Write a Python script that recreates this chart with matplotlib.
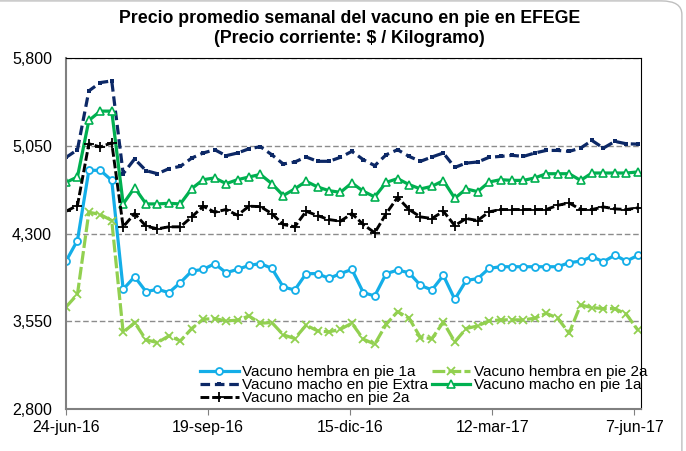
import matplotlib
matplotlib.use('Agg')
import matplotlib.pyplot as plt
from matplotlib.patches import FancyBboxPatch
from matplotlib.ticker import FuncFormatter
import pandas as pd

plt.rcParams['font.family'] = ['Liberation Sans', 'DejaVu Sans']

# weekly dates, starting 24-jun-16
fechas = pd.date_range('2016-06-24', periods=51, freq='7D')

hembra_1a = [4064, 4240, 4840, 4840, 4754, 3823, 3931, 3803, 3823, 3795,
             3880, 3979, 3993, 4042, 3965, 3993, 4027, 4043, 4002, 3843,
             3817, 3957, 3957, 3916, 3957, 3993, 3795, 3766, 3957, 3987,
             3965, 3857, 3817, 3942, 3737, 3899, 3914, 4002, 4016, 4016,
             4016, 4016, 4016, 4016, 4050, 4064, 4101, 4059, 4115, 4064,
             4112]
hembra_2a = [3672, 3780, 4482, 4462, 4411, 3454, 3539, 3391, 3368, 3425,
             3382, 3488, 3567, 3573, 3553, 3559, 3595, 3533, 3539, 3434,
             3402, 3516, 3468, 3459, 3482, 3533, 3397, 3354, 3524, 3632,
             3576, 3411, 3402, 3542, 3374, 3488, 3510, 3553, 3562, 3562,
             3562, 3576, 3618, 3576, 3448, 3689, 3667, 3658, 3658, 3610,
             3476]
macho_extra = [4950, 5016, 5519, 5590, 5604, 4811, 4937, 4837, 4811, 4854,
               4874, 4945, 4988, 5016, 4965, 4988, 5024, 5042, 4973, 4894,
               4911, 4954, 4917, 4917, 4951, 5002, 4931, 4880, 4973, 5016,
               4959, 4917, 4954, 4988, 4865, 4902, 4911, 4951, 4959, 4968,
               4959, 4988, 5010, 5010, 5002, 5030, 5095, 5030, 5087, 5067,
               5064]
macho_1a = [4737, 4783, 5266, 5346, 5346, 4553, 4692, 4553, 4553, 4558,
            4553, 4684, 4760, 4775, 4726, 4760, 4783, 4805, 4726, 4624,
            4681, 4746, 4698, 4666, 4652, 4732, 4661, 4613, 4737, 4769,
            4718, 4681, 4703, 4752, 4601, 4681, 4658, 4740, 4760, 4754,
            4754, 4775, 4811, 4811, 4811, 4754, 4817, 4817, 4817, 4817,
            4826]
macho_2a = [4490, 4539, 5067, 5039, 5075, 4357, 4470, 4363, 4340, 4357,
            4357, 4442, 4533, 4482, 4505, 4456, 4533, 4530, 4470, 4377,
            4357, 4490, 4453, 4419, 4405, 4470, 4377, 4306, 4470, 4609,
            4505, 4442, 4428, 4490, 4368, 4428, 4411, 4485, 4505, 4505,
            4505, 4505, 4505, 4541, 4561, 4505, 4505, 4527, 4510, 4505,
            4519]

tick_fechas = pd.to_datetime(['2016-06-24', '2016-09-19', '2016-12-15',
                              '2017-03-12', '2017-06-07'])
tick_textos = ['24-jun-16', '19-sep-16', '15-dic-16', '12-mar-17', '7-jun-17']

fig = plt.figure(figsize=(6.86, 4.51), dpi=100)
ax = fig.add_axes([66 / 686, 1 - 409 / 451, 575 / 686, 351 / 451])

# rounded chart border (only top-right corner is visible)
borde = FancyBboxPatch((-0.1, -0.1), 1.094, 1.098,
                       boxstyle='round,pad=0,rounding_size=0.03',
                       transform=fig.transFigure, fill=False,
                       edgecolor='#bfbfbf', linewidth=1, zorder=0)
fig.patches.append(borde)

l1, = ax.plot(fechas, hembra_1a, color='#14aee8', lw=2.3, marker='o',
              ms=5, mfc='white', mec='#14aee8', mew=1.3,
              label='Vacuno hembra en pie 1a')
l2, = ax.plot(fechas, hembra_2a, color='#92d050', lw=2.3, marker='x',
              ms=5.5, mew=1.3, dashes=(4, 1),
              label='Vacuno hembra en pie 2a')
l3, = ax.plot(fechas, macho_extra, color='#0c2866', lw=2.3, marker='s',
              ms=3.5, mew=0, dashes=(3, 1.5),
              label='Vacuno macho en pie Extra')
l4, = ax.plot(fechas, macho_1a, color='#00b050', lw=2.3, marker='^',
              ms=5.5, mfc='white', mec='#00b050', mew=1.2,
              label='Vacuno macho en pie 1a')
l5, = ax.plot(fechas, macho_2a, color='black', lw=2.1, marker='+',
              ms=6.5, mew=1.3, dashes=(3, 1),
              label='Vacuno macho en pie 2a')

ax.set_ylim(2800, 5800)
ax.set_yticks([2800, 3550, 4300, 5050, 5800])
ax.yaxis.set_major_formatter(FuncFormatter(lambda v, p: f'{v:,.0f}'))
ax.set_xlim(pd.Timestamp('2016-06-24'), pd.Timestamp('2017-06-11'))
ax.set_xticks(tick_fechas)
ax.set_xticklabels(tick_textos)

ax.grid(axis='y', color='#8c8c8c', linestyle=(0, (4, 2)), lw=1)
ax.set_axisbelow(True)
ax.tick_params(axis='y', length=0, labelsize=11.5, pad=10)
ax.tick_params(axis='x', length=4, color='#808080', labelsize=11.5,
               direction='out', pad=4)
ax.spines['left'].set_color('#808080')
ax.spines['bottom'].set_color('#808080')
ax.spines['left'].set_linewidth(1.5)
ax.spines['bottom'].set_linewidth(1.5)
ax.spines['top'].set_color('black')
ax.spines['right'].set_color('black')

fig.text(0.51, 0.958, 'Precio promedio semanal del vacuno en pie en EFEGE',
         ha='center', va='center', fontsize=12.8, fontweight='bold')
fig.text(0.51, 0.914, '(Precio corriente: $ / Kilogramo)',
         ha='center', va='center', fontsize=12.8, fontweight='bold')

ax.legend(handles=[l1, l3, l5, l2, l4], ncol=2, frameon=False,
          loc='lower left', bbox_to_anchor=(0.215, -0.02),
          fontsize=11, handlelength=2.5, handletextpad=0.2,
          columnspacing=0.3, labelspacing=-0.05, borderpad=0.2)

fig.savefig('out.png', dpi=100)
